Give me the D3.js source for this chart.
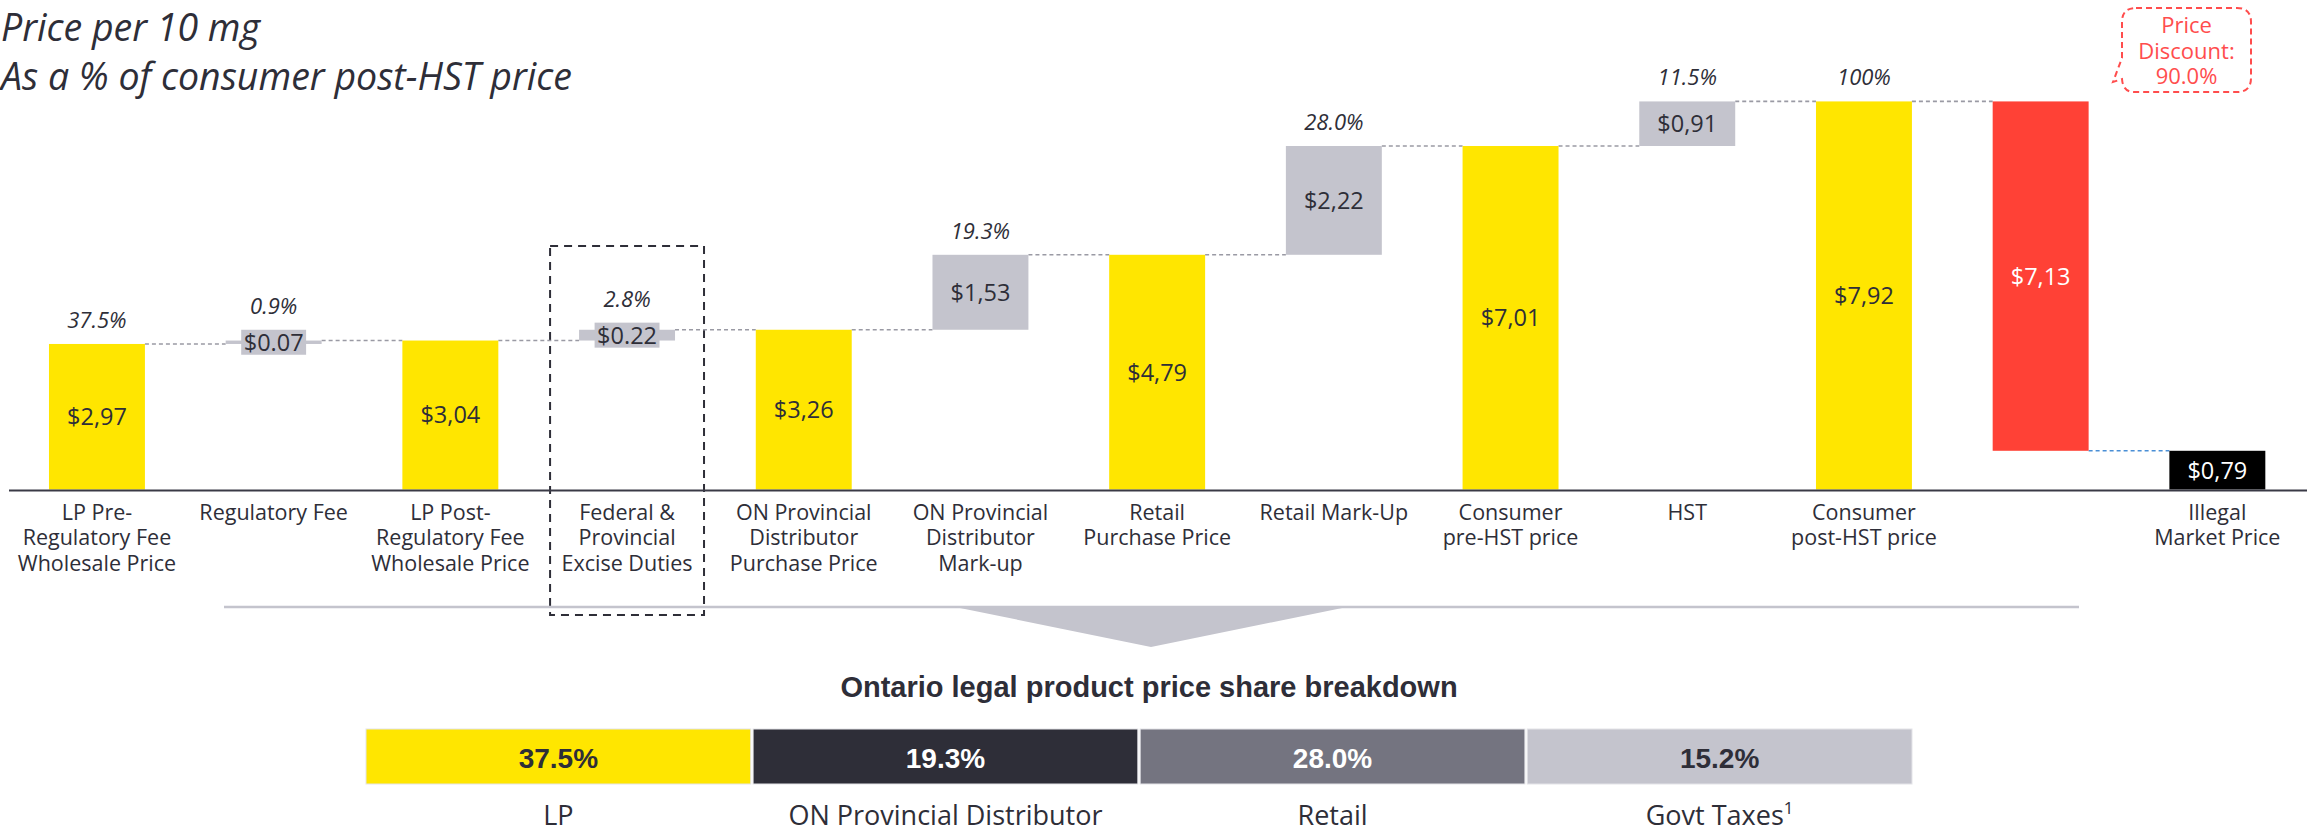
<!DOCTYPE html>
<html>
<head>
<meta charset="utf-8">
<script src="https://cdn.jsdelivr.net/npm/d3@7"></script>
<style>
  body { margin: 0; background: #fff; }
  svg { display: block; }
  text { font-family: "Open Sans", sans-serif; fill: #2e2e38; }
</style>
</head>
<body>
<svg id="chart" width="2307" height="835"></svg>
<script>
'use strict';

// waterfall steps (price per 10 mg)
const stepLines = [
  ["LP Pre-", "Regulatory Fee", "Wholesale Price"],
  ["Regulatory Fee"],
  ["LP Post-", "Regulatory Fee", "Wholesale Price"],
  ["Federal &", "Provincial", "Excise Duties"],
  ["ON Provincial", "Distributor", "Purchase Price"],
  ["ON Provincial", "Distributor", "Mark-up"],
  ["Retail", "Purchase Price"],
  ["Retail Mark-Up"],
  ["Consumer", "pre-HST price"],
  ["HST"],
  ["Consumer", "post-HST price"],
  [],
  ["Illegal", "Market Price"]
];
const stepKinds = ["total", "add", "total", "add", "total", "add", "total", "add", "total", "add", "total", "drop", "illegal"];
const stepValues = [2.97, 0.07, 3.04, 0.22, 3.26, 1.53, 4.79, 2.22, 7.01, 0.91, 7.92, 7.13, 0.79];
const valueLabels = ["$2,97", "$0.07", "$3,04", "$0.22", "$3,26", "$1,53", "$4,79", "$2,22", "$7,01", "$0,91", "$7,92", "$7,13", "$0,79"];
const pctLabels = ["37.5%", "0.9%", "", "2.8%", "", "19.3%", "", "28.0%", "", "11.5%", "100%", "", ""];

// share breakdown
const shareNames = ["LP", "ON Provincial Distributor", "Retail", "Govt Taxes"];
const shareValues = [37.5, 19.3, 28.0, 15.2];

const discountLines = ["Price", "Discount:", "90.0%"];

const svg = d3.select("#chart");

const colors = { total: "#ffe600", add: "#c4c4cd", drop: "#ff4136", illegal: "#000000" };
const labelColors = { total: "#2e2e38", add: "#2e2e38", drop: "#ffffff", illegal: "#ffffff" };

// build running totals
let run = 0;
const steps = stepValues.map(function(v, i) {
  const kind = stepKinds[i];
  let start, end;
  if (kind == "total") { start = 0; end = v; run = v; }
  else if (kind == "add") { start = run; end = run + v; run = end; }
  else if (kind == "drop") { start = run; end = run - v; run = end; }
  else { start = 0; end = v; }
  return { i: i, kind: kind, value: v, start: start, end: end };
});

const x = d3.scaleBand()
  .domain(d3.range(steps.length))
  .range([8.6, 2305.7])
  .paddingInner(0.457)
  .paddingOuter(0.2285);
const bw = x.bandwidth();

const y = d3.scaleLinear().domain([0, 8]).range([489.5, 97.5]);

// dashed box round the excise column
svg.append("rect")
  .attr("x", x(3) - 29).attr("y", 246)
  .attr("width", bw + 58).attr("height", 369)
  .attr("fill", "none")
  .attr("stroke", "#2e2e38")
  .attr("stroke-width", 2)
  .attr("stroke-dasharray", "8,6");

// connectors
const conns = steps.slice(0, -1);
svg.append("g").selectAll("line")
  .data(conns)
  .enter().append("line")
    .attr("x1", d => x(d.i) + bw)
    .attr("x2", d => x(d.i + 1))
    .attr("y1", d => y(d.end))
    .attr("y2", d => y(d.end))
    .attr("stroke", d => d.kind == "drop" ? "#4a8fd6" : "#9a9aa4")
    .attr("stroke-width", 1.6)
    .attr("stroke-dasharray", "4,3");

// bars
svg.append("g").selectAll("rect")
  .data(steps)
  .enter().append("rect")
    .attr("x", d => x(d.i))
    .attr("width", bw)
    .attr("y", d => y(Math.max(d.start, d.end)))
    .attr("height", d => Math.abs(y(d.start) - y(d.end)))
    .attr("fill", d => colors[d.kind]);

// axis line
svg.append("line")
  .attr("x1", 9).attr("x2", 2307)
  .attr("y1", y(0) + 1).attr("y2", y(0) + 1)
  .attr("stroke", "#3a3a46")
  .attr("stroke-width", 2);

// value labels (small steps get a box behind the text)
const valG = svg.append("g").selectAll("g")
  .data(steps)
  .enter().append("g")
    .attr("transform", d => `translate(${x(d.i) + bw / 2},${(y(d.start) + y(d.end)) / 2})`);

valG.append("text")
  .attr("text-anchor", "middle")
  .attr("dy", "0.36em")
  .style("font-size", "23.5px")
  .style("fill", d => labelColors[d.kind])
  .text(d => valueLabels[d.i])
  .each(function(d) {
    const h = Math.abs(y(d.start) - y(d.end));
    d.boxed = h < 30;
    if (d.boxed) {
      const w = this.getComputedTextLength() + 5;
      d3.select(this.parentNode).insert("rect", "text")
        .attr("x", -w / 2).attr("y", -12.5)
        .attr("width", w).attr("height", 25)
        .attr("fill", colors[d.kind]);
    }
  });

// percent labels
svg.append("g").selectAll("text")
  .data(steps.filter(d => pctLabels[d.i] != ""))
  .enter().append("text")
    .attr("x", d => x(d.i) + bw / 2)
    .attr("y", function(d) {
      const top = d.boxed ? (y(d.start) + y(d.end)) / 2 - 12.5 : y(Math.max(d.start, d.end));
      return top - 16;
    })
    .attr("text-anchor", "middle")
    .style("font-size", "22px")
    .style("font-style", "italic")
    .text(d => pctLabels[d.i]);

// category labels, one text per line
const catLines = [];
steps.forEach(function(d) {
  stepLines[d.i].forEach(function(s, j) {
    catLines.push({ s: s, j: j, cx: x(d.i) + bw / 2 });
  });
});
svg.append("g").selectAll("text")
  .data(catLines)
  .enter().append("text")
    .attr("x", t => t.cx)
    .attr("y", t => 519.5 + t.j * 25.5)
    .attr("text-anchor", "middle")
    .style("font-size", "21.5px")
    .text(t => t.s);

// header
svg.append("text")
  .attr("x", 1).attr("y", 41)
  .style("font-size", "37.5px").style("font-style", "italic")
  .text("Price per 10 mg");
svg.append("text")
  .attr("x", 1).attr("y", 90)
  .style("font-size", "37.5px").style("font-style", "italic")
  .text("As a % of consumer post-HST price");

// price discount callout
const cl = 2122, cr = 2251, ct = 8, cb = 92, r = 14;
svg.append("path")
  .attr("d", `M${cl + r},${ct} H${cr - r} Q${cr},${ct} ${cr},${ct + r} V${cb - r} Q${cr},${cb} ${cr - r},${cb}
              H${cl + 12} Q${cl + 1},${cb} ${cl},${cb - 13} L${cl - 9},${cb - 10} L${cl},${cb - 34} V${ct + r} Q${cl},${ct} ${cl + r},${ct} Z`)
  .attr("fill", "none")
  .attr("stroke", "#ff4d4d")
  .attr("stroke-width", 2)
  .attr("stroke-dasharray", "6,4");
svg.append("g").selectAll("text")
  .data(discountLines)
  .enter().append("text")
    .attr("x", (cl + cr) / 2)
    .attr("y", (d, j) => 33 + j * 25.5)
    .attr("text-anchor", "middle")
    .style("font-size", "22px")
    .style("fill", "#ff4d4d")
    .text(d => d);

// separator and arrow
svg.append("line")
  .attr("x1", 224).attr("x2", 2079)
  .attr("y1", 607).attr("y2", 607)
  .attr("stroke", "#c4c4cd")
  .attr("stroke-width", 2.5);
svg.append("path")
  .attr("d", "M950,606 L1352,606 L1151,647 Z")
  .attr("fill", "#c4c4cd");

// share breakdown
svg.append("text")
  .attr("x", 1149).attr("y", 697)
  .attr("text-anchor", "middle")
  .style("font-family", "'Liberation Sans', Arial, sans-serif")
  .style("font-weight", "bold")
  .style("font-size", "29px")
  .text("Ontario legal product price share breakdown");

const sx = d3.scaleBand()
  .domain(shareNames)
  .range([366, 1912])
  .paddingInner(0.006);
const shareFill = d3.scaleOrdinal().domain(shareNames).range(["#ffe600", "#2e2e38", "#747480", "#c4c4cd"]);
const shareInk = d3.scaleOrdinal().domain(shareNames).range(["#2e2e38", "#ffffff", "#ffffff", "#2e2e38"]);

const shares = shareNames.map((n, i) => ({ name: n, value: shareValues[i] }));

svg.append("g").selectAll("rect")
  .data(shares)
  .enter().append("rect")
    .attr("x", d => sx(d.name))
    .attr("y", 729)
    .attr("width", sx.bandwidth())
    .attr("height", 55)
    .attr("fill", d => shareFill(d.name))
    .attr("stroke", "#e4e4e8")
    .attr("stroke-width", 1);

svg.append("g").selectAll("text")
  .data(shares)
  .enter().append("text")
    .attr("x", d => sx(d.name) + sx.bandwidth() / 2)
    .attr("y", 768)
    .attr("text-anchor", "middle")
    .style("font-family", "'Liberation Sans', Arial, sans-serif")
    .style("font-weight", "bold")
    .style("font-size", "28px")
    .style("fill", d => shareInk(d.name))
    .text(d => d3.format(".1f")(d.value) + "%");

const shareText = svg.append("g").selectAll("text")
  .data(shares)
  .enter().append("text")
    .attr("x", d => sx(d.name) + sx.bandwidth() / 2)
    .attr("y", 825)
    .attr("text-anchor", "middle")
    .style("font-size", "27px")
    .text(d => d.name);

shareText.filter(d => d.name == "Govt Taxes")
  .append("tspan")
    .attr("dy", -11)
    .style("font-size", "17px")
    .text("1");
</script>
</body>
</html>
